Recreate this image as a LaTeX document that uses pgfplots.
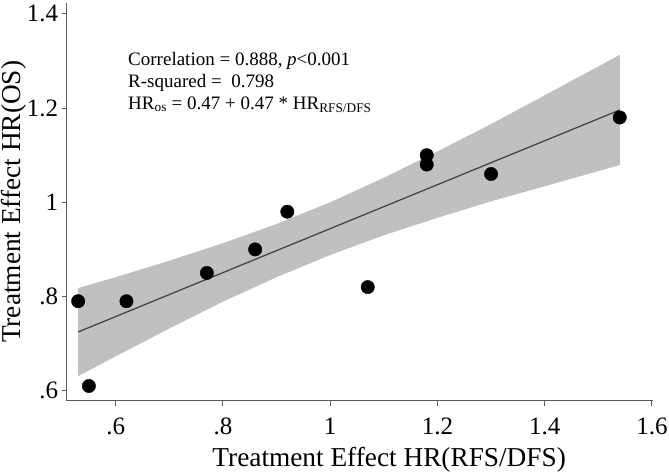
\documentclass[border=0pt]{standalone}
\usepackage{fontspec}
\setmainfont{Liberation Serif}
\usepackage{pgfplots}
\usepackage{pgfplotstable}
\pgfplotsset{compat=1.18}
\usepgfplotslibrary{fillbetween}

\definecolor{bandgray}{RGB}{192,192,192}
\definecolor{axisgray}{RGB}{90,90,90}
\definecolor{fitgray}{RGB}{70,70,70}

% Trial-level treatment effects: HR for RFS/DFS (x) against HR for OS (y)
\pgfplotstableread{
x     y
0.53  0.79
0.55  0.61
0.62  0.79
0.77  0.85
0.86  0.90
0.92  0.98
1.07  0.82
1.18  1.10
1.18  1.08
1.30  1.06
1.54  1.18
}\studies

% Linear fit with its 95% confidence band
\pgfplotstableread{
x     fit     lo     hi
0.53  0.7247  0.631  0.818
0.60  0.7574  0.673  0.841
0.70  0.8041  0.732  0.876
0.80  0.8507  0.789  0.913
0.90  0.8974  0.841  0.954
1.00  0.9440  0.888  1.000
1.10  0.9907  0.930  1.052
1.20  1.0373  0.967  1.108
1.30  1.0840  1.002  1.166
1.40  1.1306  1.034  1.227
1.54  1.1959  1.079  1.313
}\fitband

\begin{document}
\begin{tikzpicture}
\begin{axis}[
  at={(66.7pt,73.3pt)}, anchor=south west,
  scale only axis, width=586.3pt, height=397.7pt,
  xmin=0.5086, xmax=1.602, ymin=0.5788, ymax=1.423,
  axis lines=left,
  axis line style={-, axisgray, line width=1.1pt},
  xtick={0.6,0.8,1,1.2,1.4,1.6}, xticklabels={.6,.8,1,1.2,1.4,1.6},
  ytick={0.6,0.8,1,1.2,1.4}, yticklabels={.6,.8,1,1.2,1.4},
  tick align=outside, major tick length=5pt,
  tick style={axisgray, line width=1pt},
  /pgf/number format/assume math mode=true,
  ticklabel style={font=\fontsize{25}{29}\selectfont},
  xticklabel style={yshift=-9pt},
  xlabel={Treatment Effect HR(RFS/DFS)},
  ylabel={Treatment Effect HR(OS)},
  label style={font=\fontsize{27.3}{31}\selectfont},
  xlabel style={at={(axis description cs:0.55,-0.148)}, anchor=center},
  ylabel style={at={(axis description cs:-0.0899,0.5)}, anchor=center, rotate=0},
  clip=false,
]
\addplot[name path=upper, draw=none, forget plot] table[x=x, y=hi]{\fitband};
\addplot[name path=lower, draw=none, forget plot] table[x=x, y=lo]{\fitband};
\addplot[bandgray, draw=none] fill between[of=upper and lower];
\addplot[fitgray, line width=1.3pt] table[x=x, y=fit]{\fitband};
\addplot[only marks, mark=*, mark size=6.7pt, black] table[x=x, y=y]{\studies};
\node[anchor=north west, align=left, inner sep=0pt,
      font=\fontsize{19}{21.7}\selectfont] at (axis cs:0.623,1.318)
  {Correlation = 0.888, \textit{p}<0.001\\
   R-squared =\ \ 0.798\\
   HR\textsubscript{os} = 0.47 + 0.47 * HR\textsubscript{RFS/DFS}};
\end{axis}
\pgfresetboundingbox
\path (0,0) rectangle (669pt,474pt);
\end{tikzpicture}
\end{document}
